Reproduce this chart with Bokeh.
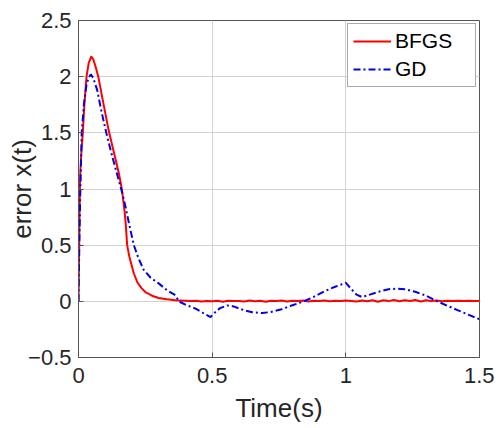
from bokeh.plotting import figure
from bokeh.models import Legend, LegendItem, FixedTicker
from bokeh.embed import file_html
from bokeh.resources import INLINE

# ---- data ----
bfgs_t = [0, 0.002, 0.004, 0.006, 0.010, 0.016, 0.022, 0.030, 0.038, 0.048,
          0.056, 0.065, 0.074, 0.090, 0.113, 0.130, 0.151, 0.162, 0.172, 0.177,
          0.182, 0.190, 0.200, 0.207, 0.220, 0.235, 0.250, 0.275, 0.300, 0.330,
          0.363, 0.40, 0.42, 0.44, 0.46, 0.48, 0.50, 0.52, 0.54, 0.56, 0.58,
          0.60, 0.62, 0.64, 0.66, 0.68, 0.70, 0.72, 0.74, 0.76, 0.78, 0.80,
          0.82, 0.84, 0.86, 0.88, 0.90, 0.92, 0.94, 0.96, 0.98, 1.00, 1.02,
          1.04, 1.06, 1.08, 1.10, 1.12, 1.14, 1.16, 1.18, 1.20, 1.22, 1.24,
          1.26, 1.28, 1.30, 1.32, 1.34, 1.36, 1.38, 1.40, 1.42, 1.44, 1.46,
          1.48, 1.50]
bfgs_v = [0, 0.40, 0.80, 1.10, 1.30, 1.50, 1.75, 2.00, 2.12, 2.18,
          2.15, 2.08, 2.00, 1.80, 1.52, 1.35, 1.14, 1.00, 0.81, 0.68,
          0.50, 0.40, 0.31, 0.25, 0.17, 0.12, 0.083, 0.05, 0.03, 0.018,
          0.010, 0.005, 0.002, 0.006, -0.002, 0.004, 0.001, 0.005, -0.003, 0.006, 0.002,
          0.004, -0.002, 0.007, 0.001, 0.005, -0.003, 0.006, 0.002, 0.008, -0.001, 0.005,
          0.002, 0.007, -0.002, 0.006, 0.003, 0.008, 0.000, 0.006, 0.002, 0.007, 0.004,
          -0.002, 0.008, 0.001, 0.010, -0.003, 0.009, 0.002, 0.011, 0.000, 0.010, 0.003,
          0.012, -0.002, 0.009, 0.004, 0.008, 0.001, 0.006, 0.003, 0.005, 0.002, 0.006,
          0.003, 0.004]

gd_t = [0, 0.003, 0.006, 0.009, 0.012, 0.020, 0.030, 0.038, 0.046, 0.055,
        0.070, 0.085, 0.104, 0.125, 0.148, 0.162, 0.176, 0.190, 0.207, 0.225,
        0.244, 0.270, 0.300, 0.330, 0.363, 0.375, 0.400, 0.438, 0.470, 0.494,
        0.510, 0.530, 0.556, 0.580, 0.620, 0.650, 0.687, 0.720, 0.760, 0.800,
        0.843, 0.880, 0.920, 0.960, 1.000, 1.020, 1.040, 1.061, 1.090, 1.130,
        1.160, 1.192, 1.220, 1.260, 1.300, 1.342, 1.380, 1.420, 1.460, 1.500]
gd_v = [0, 0.50, 0.90, 1.20, 1.50, 1.75, 1.93, 1.99, 2.02, 1.99,
        1.88, 1.70, 1.50, 1.30, 1.10, 0.98, 0.84, 0.68, 0.50, 0.38,
        0.28, 0.21, 0.16, 0.10, 0.053, 0.0, -0.03, -0.065, -0.11, -0.14,
        -0.10, -0.06, -0.036, -0.045, -0.08, -0.097, -0.104, -0.095, -0.07, -0.035,
        0.0, 0.04, 0.09, 0.13, 0.165, 0.11, 0.06, 0.038, 0.06, 0.09,
        0.108, 0.113, 0.108, 0.085, 0.05, 0.0, -0.04, -0.08, -0.12, -0.16]

x_ticks = [0, 0.5, 1, 1.5]
y_ticks = [-0.5, 0, 0.5, 1, 1.5, 2, 2.5]
x_label = "Time(s)"
y_label = "error x(t)"
series_names = ["BFGS", "GD"]

FONT = "Liberation Sans"
AXIS_C = "#555555"
TEXT_C = "#262626"

p = figure(width=494, height=428, x_range=(0, 1.5), y_range=(-0.5, 2.5),
           output_backend="svg", toolbar_location=None,
           min_border_left=78, min_border_right=15,
           min_border_top=20, min_border_bottom=71)
p.background_fill_color = "white"
p.border_fill_color = "white"
p.outline_line_color = AXIS_C
p.outline_line_width = 1

for ax, ticks in ((p.xaxis[0], x_ticks), (p.yaxis[0], y_ticks)):
    ax.ticker = FixedTicker(ticks=ticks)
    ax.major_tick_in = 5
    ax.major_tick_out = 0
    ax.minor_tick_line_color = None
    ax.axis_line_color = AXIS_C
    ax.major_tick_line_color = AXIS_C
    ax.major_label_text_font = FONT
    ax.major_label_text_font_size = "22px"
    ax.major_label_text_color = TEXT_C
    ax.axis_label_text_font = FONT
    ax.axis_label_text_font_size = "26px"
    ax.axis_label_text_font_style = "normal"
    ax.axis_label_text_color = TEXT_C

p.xaxis[0].axis_label = x_label
p.yaxis[0].axis_label = y_label
p.xaxis[0].major_label_standoff = 10
p.xaxis[0].axis_label_standoff = 7
p.yaxis[0].major_label_standoff = 7
p.yaxis[0].axis_label_standoff = -12

p.xgrid.ticker = FixedTicker(ticks=x_ticks)
p.ygrid.ticker = FixedTicker(ticks=y_ticks)
p.grid.grid_line_color = "#d2d2d2"
p.grid.grid_line_width = 1

r1 = p.line(bfgs_t, bfgs_v, line_color="#ff0000", line_width=2)
r2 = p.line(gd_t, gd_v, line_color="#0000ee", line_width=2, line_dash="7 3 2 3")

legend = Legend(items=[LegendItem(label=series_names[0], renderers=[r1]),
                       LegendItem(label=series_names[1], renderers=[r2])],
                location=(269, 270), margin=0, padding=5, spacing=4,
                label_height=24, glyph_height=24, glyph_width=38,
                label_standoff=4, label_width=75,
                label_text_font=FONT, label_text_font_size="21px",
                label_text_color="black",
                border_line_color=AXIS_C, border_line_width=1,
                background_fill_color="white", background_fill_alpha=1)
p.add_layout(legend, "center")

open("out.html", "w").write(file_html(p, INLINE))
